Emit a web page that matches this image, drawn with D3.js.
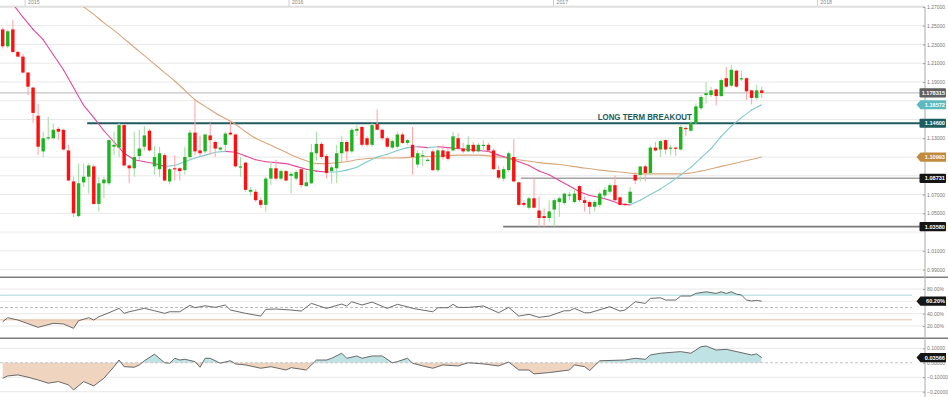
<!DOCTYPE html>
<html><head><meta charset="utf-8">
<script src="https://cdn.jsdelivr.net/npm/d3@7/dist/d3.min.js"></script>
<style>body{margin:0;background:#fff}svg{display:block;font-family:"Liberation Sans",Arial,sans-serif}</style>
</head><body>
<svg id="c" width="948" height="397"></svg>
<script>
// ---------------- DATA ----------------
const firstWeek = "2014-12-01";
const opens  = [1.246,1.228,1.246,1.222,1.217,1.200,1.184,1.154,1.116,1.130,1.130,1.140,1.139,1.117,1.084,1.047,1.083,1.089,1.100,1.060,1.082,1.082,1.121,1.120,1.144,1.101,1.098,1.111,1.121,1.138,1.100,1.097,1.112,1.084,1.098,1.098,1.096,1.110,1.136,1.117,1.116,1.133,1.126,1.118,1.123,1.136,1.134,1.099,1.104,1.073,1.073,1.064,1.059,1.087,1.098,1.087,1.095,1.090,1.087,1.097,1.079,1.082,1.114,1.124,1.111,1.095,1.098,1.114,1.126,1.116,1.138,1.142,1.130,1.123,1.145,1.139,1.130,1.120,1.121,1.134,1.125,1.123,1.102,1.111,1.106,1.116,1.096,1.117,1.116,1.117,1.130,1.119,1.116,1.123,1.116,1.122,1.123,1.117,1.096,1.087,1.096,1.110,1.083,1.061,1.056,1.066,1.053,1.047,1.045,1.054,1.062,1.061,1.069,1.062,1.079,1.064,1.062,1.057,1.059,1.069,1.073,1.080,1.067,1.060,1.061,1.091,1.091,1.100,1.093,1.120,1.118,1.128,1.119,1.120,1.118,1.141,1.138,1.146,1.162,1.176,1.176,1.182,1.175,1.194,1.186,1.202,1.193,1.194,1.181,1.173,1.181];
const highs  = [1.248,1.246,1.256,1.223,1.220,1.201,1.185,1.167,1.137,1.153,1.146,1.142,1.140,1.123,1.089,1.103,1.103,1.103,1.102,1.089,1.089,1.129,1.137,1.146,1.145,1.102,1.137,1.139,1.143,1.140,1.122,1.121,1.114,1.098,1.112,1.099,1.121,1.139,1.171,1.133,1.135,1.146,1.128,1.121,1.137,1.149,1.135,1.110,1.105,1.078,1.076,1.067,1.089,1.105,1.107,1.097,1.096,1.094,1.096,1.098,1.095,1.124,1.137,1.126,1.113,1.101,1.123,1.132,1.128,1.141,1.145,1.143,1.132,1.146,1.161,1.140,1.132,1.129,1.137,1.136,1.129,1.142,1.117,1.117,1.109,1.118,1.119,1.123,1.120,1.137,1.135,1.125,1.132,1.126,1.125,1.128,1.125,1.119,1.101,1.100,1.116,1.129,1.084,1.064,1.068,1.087,1.068,1.055,1.064,1.066,1.068,1.072,1.073,1.075,1.080,1.068,1.064,1.064,1.073,1.078,1.082,1.090,1.068,1.061,1.078,1.094,1.100,1.102,1.122,1.126,1.128,1.129,1.123,1.121,1.144,1.143,1.148,1.167,1.176,1.190,1.185,1.183,1.194,1.206,1.208,1.203,1.202,1.195,1.182,1.187,1.185];
const lows   = [1.226,1.226,1.221,1.216,1.199,1.176,1.146,1.112,1.110,1.128,1.129,1.128,1.117,1.084,1.046,1.046,1.078,1.071,1.059,1.052,1.066,1.080,1.112,1.110,1.100,1.082,1.089,1.107,1.117,1.116,1.091,1.089,1.084,1.081,1.085,1.085,1.091,1.107,1.112,1.110,1.114,1.112,1.110,1.116,1.116,1.133,1.099,1.089,1.073,1.069,1.062,1.056,1.052,1.080,1.085,1.085,1.084,1.071,1.085,1.078,1.078,1.081,1.106,1.108,1.087,1.082,1.082,1.105,1.105,1.114,1.132,1.121,1.121,1.121,1.139,1.128,1.119,1.118,1.119,1.124,1.123,1.091,1.099,1.100,1.105,1.095,1.094,1.107,1.106,1.116,1.117,1.114,1.115,1.114,1.115,1.116,1.116,1.096,1.086,1.084,1.094,1.083,1.058,1.057,1.054,1.055,1.036,1.036,1.041,1.036,1.046,1.059,1.064,1.061,1.062,1.052,1.049,1.052,1.057,1.066,1.071,1.063,1.058,1.058,1.060,1.081,1.084,1.084,1.091,1.116,1.110,1.113,1.112,1.111,1.117,1.132,1.137,1.145,1.160,1.167,1.174,1.165,1.174,1.184,1.185,1.184,1.191,1.171,1.166,1.171,1.173];
const closes = [1.228,1.244,1.222,1.217,1.200,1.185,1.157,1.121,1.130,1.131,1.139,1.137,1.118,1.085,1.050,1.082,1.089,1.101,1.060,1.082,1.086,1.128,1.123,1.144,1.101,1.098,1.110,1.119,1.133,1.117,1.110,1.114,1.085,1.097,1.097,1.095,1.110,1.136,1.116,1.114,1.134,1.128,1.119,1.120,1.135,1.134,1.100,1.100,1.075,1.075,1.064,1.059,1.087,1.098,1.087,1.095,1.085,1.092,1.094,1.080,1.083,1.115,1.124,1.110,1.093,1.099,1.114,1.126,1.116,1.139,1.140,1.123,1.123,1.144,1.139,1.130,1.121,1.127,1.134,1.125,1.128,1.110,1.114,1.112,1.107,1.096,1.117,1.110,1.108,1.132,1.119,1.116,1.123,1.116,1.123,1.123,1.117,1.097,1.088,1.097,1.114,1.084,1.059,1.059,1.066,1.056,1.045,1.045,1.052,1.064,1.066,1.071,1.070,1.071,1.064,1.061,1.057,1.062,1.071,1.075,1.080,1.064,1.059,1.059,1.073,1.085,1.100,1.093,1.120,1.117,1.127,1.118,1.120,1.119,1.142,1.140,1.146,1.164,1.174,1.178,1.181,1.175,1.192,1.185,1.203,1.185,1.194,1.180,1.173,1.181,1.178315];

const fastMaIdx = [0,2,4,6,8,10,12,14,16,18,20,22,24,26,28,30,32,34,36,38,40,42,44,46,48,50,52,54,56,58,60,62,64,66,68,70,72,74,76,78,80,82,84,86,88,90,92,94,96,98,100,102,104,106,108,110,112,114,116,118,120,122,124,126,128,130,132,134,136,138,140,142,144,146,148,150];
const fastMaVal = [1.284,1.273,1.259,1.246,1.235,1.219,1.203,1.184,1.165,1.152,1.138,1.126,1.114,1.107,1.105,1.103,1.100,1.101,1.105,1.109,1.112,1.115,1.116,1.115,1.111,1.107,1.105,1.104,1.103,1.100,1.097,1.095,1.094,1.094,1.096,1.099,1.105,1.110,1.113,1.117,1.120,1.121,1.120,1.121,1.120,1.119,1.118,1.117,1.116,1.112,1.109,1.105,1.101,1.095,1.091,1.085,1.079,1.073,1.069,1.067,1.064,1.060,1.059,1.064,1.070,1.076,1.083,1.091,1.099,1.109,1.119,1.132,1.143,1.152,1.160,1.16572];

const slowMaIdx = [0,5,10,15,18,20,22,24,26,28,30,32,34,36,38,40,42,44,46,48,50,52,54,56,58,60,62,64,66,68,70,74,78,82,86,90,94,98,102,106,110,114,118,122,126,130,134,138,142,146,150];
const slowMaVal = [1.330,1.314,1.296,1.274,1.262,1.253,1.245,1.236,1.227,1.218,1.209,1.200,1.191,1.181,1.171,1.164,1.157,1.151,1.145,1.137,1.130,1.125,1.120,1.115,1.110,1.106,1.103,1.103,1.104,1.105,1.107,1.109,1.109,1.110,1.111,1.112,1.112,1.110,1.107,1.104,1.102,1.099,1.096,1.094,1.092,1.092,1.092,1.095,1.100,1.105,1.10993];

const rsiIdx = [0,1,3,7,10,12,14,15,17,18,19,21,23,24,25,28,30,32,33,35,37,38,40,42,44,45,48,51,52,54,57,59,61,64,67,68,69,71,73,76,78,80,81,85,86,88,89,90,92,95,98,100,102,104,106,108,111,112,113,115,116,120,122,123,125,127,128,130,131,133,134,136,137,139,141,142,143,144,145,146,147,148,149,150];
const rsiVal = [26.9,33.4,29.7,17.8,24.3,23.2,16.2,28.5,33.4,29.7,35.0,41.5,48.6,40.5,43.1,48.6,44.7,40.5,43.1,43.1,53.5,49.6,52.8,50.2,54.0,45.9,40.5,36.1,47.0,47.5,45.9,44.2,56.7,48.6,55.6,52.4,59.3,54.0,58.8,48.6,55.1,51.2,48.6,43.1,49.6,49.6,55.1,50.2,50.2,52.4,41.5,50.2,36.1,38.9,34.0,36.1,44.7,44.7,48.6,41.5,41.5,51.2,44.2,45.9,59.3,56.7,64.8,65.8,62.1,62.1,68.6,68.6,72.9,75.5,72.9,75.5,72.9,75.5,71.8,70.2,62.1,60.5,61.6,60.2];

const oscIdx = [0,1,3,5,7,9,11,13,14,16,18,20,22,23,24,26,27,28,30,32,33,34,35,36,38,39,40,41,43,45,46,48,51,53,56,57,60,62,64,65,67,68,70,71,73,75,77,78,80,81,83,85,87,90,92,95,98,100,102,104,105,108,112,113,115,116,118,123,125,127,128,130,134,136,138,139,141,143,148,149,150];
const oscVal = [-0.107,-0.091,-0.084,-0.100,-0.119,-0.141,-0.130,-0.153,-0.188,-0.130,-0.160,-0.107,-0.027,0.019,-0.027,-0.031,-0.015,0.014,0.059,0.000,-0.003,0.031,0.019,0.024,0.008,-0.031,0.031,0.031,-0.003,0.014,-0.008,-0.015,-0.038,-0.027,-0.050,-0.034,-0.050,0.019,0.019,0.031,0.066,0.031,0.047,0.031,0.047,0.047,0.000,0.008,0.031,-0.003,-0.022,-0.038,-0.015,-0.022,0.000,-0.008,-0.022,0.005,-0.050,-0.050,-0.077,-0.068,-0.050,-0.015,-0.027,-0.054,0.014,0.019,0.031,0.024,0.054,0.066,0.077,0.066,0.111,0.116,0.088,0.093,0.054,0.061,0.03566];

const priceTicks = [1.27,1.25,1.23,1.21,1.19,1.17,1.15,1.13,1.11,1.09,1.07,1.05,1.03,1.01,0.99];
const rsiTicks = [80,60,40,20];
const rsiLevels = [70,50,30];
const oscTicks = [0.1,0,-0.1,-0.2];
const yearLabels = ["2015","2016","2017","2018"];

const levelValues = [1.178315, 1.146, 1.08731, 1.0358];
const levelFromIdx = [-1, 16.7, 102.4, 98.9];
const breakoutText = "LONG TERM BREAKOUT";
const breakoutTextIdx = 117.6;

const tagValues = [1.178315, 1.16572, 1.146, 1.10993, 1.08731, 1.0358];
const tagLabels = ["1.178315","1.16572","1.14600","1.10993","1.08731","1.03580"];
const rsiTagValue = 60.2, rsiTagLabel = "60.20%";
const oscTagValue = 0.03566, oscTagLabel = "0.03566";

// ---------------- DRAW ----------------
const svg = d3.select("#c");
const AX = 925;
const N = closes.length;
const x = d3.scaleLinear().domain([0, N-1]).range([2.7, 761.7]);
const t0 = new Date(firstWeek + "T00:00:00Z");
const xt = d3.scaleUtc().domain([t0, new Date(+t0 + (N-1)*7*864e5)]).range(x.range());
const yM = d3.scaleLinear().domain([0.99,1.27]).range([269.6,6.9]);
const yR = d3.scaleLinear().domain([0,100]).range([338.3,276.7]);
const yO = d3.scaleLinear().domain([-0.2,0.1]).range([391.7,348.3]);

const defs = svg.append("defs");
function clip(id,x0,y0,w,h){defs.append("clipPath").attr("id",id).append("rect").attr("x",x0).attr("y",y0).attr("width",w).attr("height",h);}
clip("cm",0,7,AX,270);
clip("cr",0,278,AX,59);
clip("co",0,339,AX,58);
clip("rHi",0,0,AX,yR(70));
clip("rLo",0,yR(30),AX,400);
clip("oHi",0,0,AX,yO(0));
clip("oLo",0,yO(0),AX,400);

// top year strip
const topG = svg.append("g");
yearLabels.forEach(l=>{
  const xx = xt(new Date(l+"-01-01T00:00:00Z"));
  topG.append("line").attr("x1",xx).attr("x2",xx).attr("y1",0).attr("y2",6).attr("stroke","#cfcfcf");
  topG.append("text").attr("x",xx+3).attr("y",3.6).attr("font-size",5.2).attr("fill","#888").text(l);
});
topG.append("line").attr("x1",0).attr("x2",AX).attr("y1",6.6).attr("y2",6.6).attr("stroke","#d2d2d2").attr("stroke-width",1.6);

// gridlines
const grid = svg.append("g").attr("stroke","#e8e8e8").attr("stroke-width",1);
priceTicks.forEach(p=>grid.append("line").attr("x1",0).attr("x2",AX).attr("y1",yM(p)).attr("y2",yM(p)));
rsiTicks.forEach(p=>grid.append("line").attr("x1",0).attr("x2",AX).attr("y1",yR(p)).attr("y2",yR(p)));
oscTicks.filter(v=>v!==0).forEach(p=>grid.append("line").attr("x1",0).attr("x2",AX).attr("y1",yO(p)).attr("y2",yO(p)));

// main panel
const mainG = svg.append("g").attr("clip-path","url(#cm)");
const levelStyle = [{c:"#b5b5b5",w:1},{c:"#1d5b5e",w:2},{c:"#a3a3a3",w:1.6},{c:"#7a7a7a",w:1.6}];
levelValues.forEach((v,k)=>{
  mainG.append("line").attr("x1",Math.max(0,x(levelFromIdx[k]))).attr("x2",AX)
    .attr("y1",yM(v)).attr("y2",yM(v)).attr("stroke",levelStyle[k].c).attr("stroke-width",levelStyle[k].w);
});

// slow MA
mainG.append("path").datum(slowMaIdx.map((d,k)=>[d,slowMaVal[k]]))
  .attr("d",d3.line().x(d=>x(d[0])).y(d=>yM(d[1])).curve(d3.curveMonotoneX))
  .attr("fill","none").attr("stroke","#d8a77c").attr("stroke-width",1.1);

// fast MA, colored by slope
for(let k=0;k<fastMaIdx.length-1;k++){
  const up = fastMaVal[k+1] >= fastMaVal[k];
  mainG.append("line").attr("x1",x(fastMaIdx[k])).attr("y1",yM(fastMaVal[k]))
    .attr("x2",x(fastMaIdx[k+1])).attr("y2",yM(fastMaVal[k+1]))
    .attr("stroke",up?"#7fcacd":"#e6479c").attr("stroke-width",1.1).attr("stroke-linecap","round");
}

// candles
const cg = mainG.append("g");
const bw = 3.4;
closes.forEach((c,i)=>{
  const o = opens[i], up = c >= o;
  const cx = x(i);
  cg.append("line").attr("x1",cx).attr("x2",cx).attr("y1",yM(highs[i])).attr("y2",yM(lows[i]))
    .attr("stroke",up?"#a6e0a6":"#ffaaaa").attr("stroke-width",1.1);
  const y1 = yM(Math.max(o,c)), y2 = yM(Math.min(o,c));
  cg.append("rect").attr("x",cx-bw/2).attr("width",bw).attr("y",y1).attr("height",Math.max(1.2,y2-y1))
    .attr("fill",up?"#1db41d":"#ff1010");
});

mainG.append("text").attr("x",x(breakoutTextIdx)).attr("y",119.6).attr("font-size",9).attr("font-weight","bold")
  .attr("fill","#1d5b5e").attr("textLength",94).attr("lengthAdjust","spacingAndGlyphs").text(breakoutText);

// RSI panel
const rp = svg.append("g").attr("clip-path","url(#cr)");
const rsiPts = rsiIdx.map((d,k)=>[d,rsiVal[k]]);
rp.append("path").datum(rsiPts).attr("clip-path","url(#rHi)")
  .attr("d",d3.area().x(d=>x(d[0])).y0(yR(70)).y1(d=>yR(d[1]))).attr("fill","#bfe3e4");
rp.append("path").datum(rsiPts).attr("clip-path","url(#rLo)")
  .attr("d",d3.area().x(d=>x(d[0])).y0(yR(30)).y1(d=>yR(d[1]))).attr("fill","#efd4c0");
const lvlCol = ["#a9d9db","#bdbdbd","#ebbfa2"];
rsiLevels.forEach((v,k)=>{
  rp.append("line").attr("x1",0).attr("x2",912).attr("y1",yR(v)).attr("y2",yR(v))
    .attr("stroke",lvlCol[k]).attr("stroke-width",1).attr("stroke-dasharray",v===50?"3,2":null);
});
rp.append("path").datum(rsiPts).attr("d",d3.line().x(d=>x(d[0])).y(d=>yR(d[1])))
  .attr("fill","none").attr("stroke","#5a5a5a").attr("stroke-width",0.9);

// Oscillator panel
const op = svg.append("g").attr("clip-path","url(#co)");
const oscPts = oscIdx.map((d,k)=>[d,oscVal[k]]);
op.append("path").datum(oscPts).attr("clip-path","url(#oHi)")
  .attr("d",d3.area().x(d=>x(d[0])).y0(yO(0)).y1(d=>yO(d[1]))).attr("fill","#bfe3e4");
op.append("path").datum(oscPts).attr("clip-path","url(#oLo)")
  .attr("d",d3.area().x(d=>x(d[0])).y0(yO(0)).y1(d=>yO(d[1]))).attr("fill","#efd4c0");
op.append("line").attr("x1",0).attr("x2",912).attr("y1",yO(0)).attr("y2",yO(0))
  .attr("stroke","#c4c4c4").attr("stroke-dasharray","3,2");
op.append("path").datum(oscPts).attr("d",d3.line().x(d=>x(d[0])).y(d=>yO(d[1])))
  .attr("fill","none").attr("stroke","#5a5a5a").attr("stroke-width",0.9);

// separators
[277.3,338.3].forEach(yy=>svg.append("line").attr("x1",0).attr("x2",948).attr("y1",yy).attr("y2",yy)
  .attr("stroke","#7d7d7d").attr("stroke-width",1.6));

// axes (labels hidden behind value tags are not drawn)
const mainTagYs = tagValues.map(v=>yM(v));
const visibleP = priceTicks.filter(p=>mainTagYs.every(t=>Math.abs(yM(p)-t)>5.5));
const visibleR = rsiTicks.filter(p=>Math.abs(yR(p)-yR(rsiTagValue))>5.5);
function styleAxis(g){
  g.select(".domain").remove();
  g.selectAll(".tick line").attr("stroke","#999");
  g.selectAll(".tick text").attr("fill","#777").attr("font-size",5).attr("font-family","'Liberation Sans',Arial,sans-serif");
}
svg.append("g").attr("transform",`translate(${AX-2},0)`)
  .call(d3.axisRight(yM).tickValues(visibleP).tickFormat(d3.format(".5f")).tickSize(2).tickPadding(2)).call(styleAxis);
svg.append("g").attr("transform",`translate(${AX-2},0)`)
  .call(d3.axisRight(yR).tickValues(visibleR).tickFormat(d=>d3.format(".2f")(d)+"%").tickSize(2).tickPadding(2)).call(styleAxis);
svg.append("g").attr("transform",`translate(${AX-2},0)`)
  .call(d3.axisRight(yO).tickValues(oscTicks).tickFormat(d3.format(".5f")).tickSize(2).tickPadding(2)).call(styleAxis);
svg.append("line").attr("x1",AX).attr("x2",AX).attr("y1",7).attr("y2",397).attr("stroke","#aaa").attr("stroke-width",1);

// tags
function tag(yy,label,fill,arrow){
  const g = svg.append("g");
  if(arrow){
    g.append("path").attr("d",`M916.5,${yy} L920.5,${yy-4.6} L946,${yy-4.6} L946,${yy+4.6} L920.5,${yy+4.6} Z`).attr("fill",fill);
  } else {
    g.append("rect").attr("x",919.5).attr("y",yy-4.6).attr("width",26.5).attr("height",9.2).attr("rx",1).attr("fill",fill);
  }
  g.append("text").attr("x",945).attr("y",yy+2).attr("text-anchor","end").attr("font-size",5.6)
    .attr("font-weight","bold").attr("fill","#fff").text(label);
}
const tagStyle = [["#5f5f5f",false],["#5cb9bd",true],["#1d5b5e",false],["#c28a3c",true],["#151515",false],["#151515",false]];
tagValues.forEach((v,k)=>tag(yM(v),tagLabels[k],tagStyle[k][0],tagStyle[k][1]));
tag(yR(rsiTagValue),rsiTagLabel,"#151515",true);
tag(yO(oscTagValue),oscTagLabel,"#151515",true);
</script>
</body></html>
